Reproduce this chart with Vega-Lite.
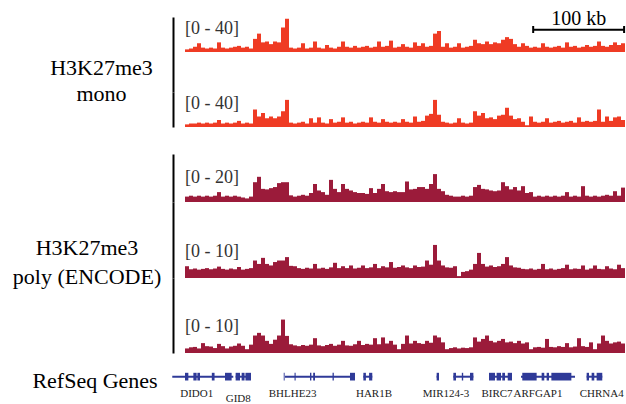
{
  "$schema": "https://vega.github.io/schema/vega-lite/v6.json",
  "background": "white",
  "padding": {"left": 0, "top": 9, "right": 0, "bottom": 0},
  "config": {"view": {"stroke": null}, "font": "Liberation Serif"},
  "datasets": {
    "sig": [
      {"kb":2.2,"m1":3,"m2":3,"p1":3,"p2":3.1,"p3":1.2},
      {"kb":6.6,"m1":4,"m2":4,"p1":3.5,"p2":2.3,"p3":1.5},
      {"kb":11,"m1":6,"m2":4,"p1":3,"p2":2.5,"p3":1.6},
      {"kb":15.4,"m1":10,"m2":5,"p1":3.5,"p2":2.2,"p3":1.2},
      {"kb":19.8,"m1":5,"m2":4,"p1":3,"p2":2.4,"p3":2.6},
      {"kb":24.2,"m1":4,"m2":5,"p1":3.5,"p2":2.6,"p3":1.8},
      {"kb":28.6,"m1":5,"m2":4,"p1":3,"p2":2.3,"p3":1.7},
      {"kb":33,"m1":4,"m2":5,"p1":3.5,"p2":2.5,"p3":1.3},
      {"kb":37.4,"m1":11,"m2":8,"p1":5.5,"p2":3,"p3":2.4},
      {"kb":41.8,"m1":5,"m2":4,"p1":3,"p2":2.4,"p3":1.8},
      {"kb":46.2,"m1":4,"m2":5,"p1":3.5,"p2":2.2,"p3":1.2},
      {"kb":50.6,"m1":5,"m2":4,"p1":3,"p2":2.5,"p3":1.7},
      {"kb":55,"m1":6,"m2":5,"p1":3.5,"p2":2.3,"p3":1.9},
      {"kb":59.4,"m1":7,"m2":7,"p1":3,"p2":2.9,"p3":2.5},
      {"kb":63.8,"m1":5,"m2":4,"p1":2.5,"p2":2.2,"p3":1.9},
      {"kb":68.2,"m1":6,"m2":5,"p1":2,"p2":2.4,"p3":1},
      {"kb":72.6,"m1":4,"m2":4,"p1":3,"p2":2.6,"p3":2.2},
      {"kb":77,"m1":15,"m2":20,"p1":11,"p2":4.6,"p3":4.6},
      {"kb":81.4,"m1":21,"m2":12,"p1":14,"p2":3.7,"p3":5.3},
      {"kb":85.8,"m1":11,"m2":16,"p1":7.3,"p2":5.3,"p3":4.6},
      {"kb":90.2,"m1":12,"m2":10,"p1":7,"p2":3.7,"p3":3.2},
      {"kb":94.6,"m1":9,"m2":12,"p1":7.7,"p2":3.3,"p3":2.4},
      {"kb":99,"m1":12,"m2":10,"p1":8.3,"p2":4.2,"p3":3.5},
      {"kb":103.4,"m1":11,"m2":12,"p1":10.5,"p2":4.6,"p3":4.6},
      {"kb":107.8,"m1":28,"m2":18,"p1":11,"p2":4.6,"p3":8.8},
      {"kb":112.2,"m1":38,"m2":31,"p1":11,"p2":5.5,"p3":4.5},
      {"kb":116.6,"m1":5,"m2":5,"p1":3.7,"p2":3.2,"p3":2.3},
      {"kb":121,"m1":4,"m2":4,"p1":3,"p2":3.1,"p3":2},
      {"kb":125.4,"m1":5,"m2":5,"p1":3.5,"p2":2.6,"p3":1.8},
      {"kb":129.8,"m1":10,"m2":6,"p1":4,"p2":2.4,"p3":2.1},
      {"kb":134.2,"m1":4,"m2":4,"p1":3.5,"p2":2.7,"p3":1.9},
      {"kb":138.6,"m1":5,"m2":10,"p1":5,"p2":2.5,"p3":2.2},
      {"kb":143,"m1":12,"m2":5,"p1":10,"p2":3.7,"p3":3.9},
      {"kb":147.4,"m1":5,"m2":11,"p1":6.4,"p2":2.5,"p3":2},
      {"kb":151.8,"m1":4,"m2":5,"p1":5.5,"p2":2.7,"p3":1.8},
      {"kb":156.2,"m1":8,"m2":4,"p1":4,"p2":2.4,"p3":2.1},
      {"kb":160.6,"m1":5,"m2":9,"p1":12.3,"p2":2.8,"p3":2.4},
      {"kb":165,"m1":4,"m2":5,"p1":7.3,"p2":4,"p3":1.9},
      {"kb":169.4,"m1":6,"m2":6,"p1":5.5,"p2":2.6,"p3":2.2},
      {"kb":173.8,"m1":12,"m2":11,"p1":10,"p2":3.1,"p3":3.2},
      {"kb":178.2,"m1":6,"m2":5,"p1":7.3,"p2":2.6,"p3":2},
      {"kb":182.6,"m1":5,"m2":6,"p1":6.4,"p2":3.3,"p3":1.9},
      {"kb":187,"m1":7,"m2":4,"p1":5.5,"p2":2.5,"p3":2.3},
      {"kb":191.4,"m1":5,"m2":5,"p1":5,"p2":2.7,"p3":3.2},
      {"kb":195.8,"m1":6,"m2":6,"p1":5,"p2":3.3,"p3":2.1},
      {"kb":200.2,"m1":7,"m2":5,"p1":4.5,"p2":2.6,"p3":2.4},
      {"kb":204.6,"m1":5,"m2":11,"p1":7.7,"p2":2.8,"p3":2.2},
      {"kb":209,"m1":6,"m2":6,"p1":5,"p2":3.7,"p3":3.9},
      {"kb":213.4,"m1":12,"m2":5,"p1":7.3,"p2":2.6,"p3":2.3},
      {"kb":217.8,"m1":6,"m2":9,"p1":10,"p2":3.1,"p3":4.1},
      {"kb":222.2,"m1":7,"m2":6,"p1":6,"p2":2.8,"p3":2.5},
      {"kb":226.6,"m1":13,"m2":5,"p1":5.5,"p2":4.2,"p3":3.2},
      {"kb":231,"m1":5,"m2":6,"p1":6,"p2":2.7,"p3":2.2},
      {"kb":235.4,"m1":6,"m2":5,"p1":5.5,"p2":2.9,"p3":1},
      {"kb":239.8,"m1":9,"m2":9,"p1":5.5,"p2":3.3,"p3":2.4},
      {"kb":244.2,"m1":6,"m2":6,"p1":11.4,"p2":2.8,"p3":4.6},
      {"kb":248.6,"m1":5,"m2":5,"p1":7,"p2":2.6,"p3":2.5},
      {"kb":253,"m1":11,"m2":12,"p1":7.3,"p2":3.3,"p3":3.2},
      {"kb":257.4,"m1":7,"m2":6,"p1":8.3,"p2":2.9,"p3":2.6},
      {"kb":261.8,"m1":10,"m2":7,"p1":8.3,"p2":3,"p3":2.4},
      {"kb":266.2,"m1":6,"m2":13,"p1":7.3,"p2":4.6,"p3":3.2},
      {"kb":270.6,"m1":7,"m2":15,"p1":10,"p2":3.5,"p3":2.7},
      {"kb":275,"m1":21,"m2":31,"p1":15.5,"p2":8.7,"p3":4.6},
      {"kb":279.4,"m1":24,"m2":14,"p1":7.3,"p2":4.6,"p3":4.1},
      {"kb":283.8,"m1":6,"m2":6,"p1":6,"p2":3.3,"p3":2.8},
      {"kb":288.2,"m1":10,"m2":5,"p1":4,"p2":2.8,"p3":1},
      {"kb":292.6,"m1":5,"m2":4,"p1":3.5,"p2":2.7,"p3":1.3},
      {"kb":297,"m1":6,"m2":5,"p1":3,"p2":3.1,"p3":1.5},
      {"kb":301.4,"m1":10,"m2":10,"p1":3,"p2":0.5,"p3":1.2},
      {"kb":305.8,"m1":5,"m2":5,"p1":3.5,"p2":1.6,"p3":1.4},
      {"kb":310.2,"m1":6,"m2":4,"p1":3,"p2":1.8,"p3":1.3},
      {"kb":314.6,"m1":7,"m2":5,"p1":3.5,"p2":2.2,"p3":1.5},
      {"kb":319,"m1":14,"m2":18,"p1":8.3,"p2":3.7,"p3":4.1},
      {"kb":323.4,"m1":10,"m2":13,"p1":9.5,"p2":6.6,"p3":3},
      {"kb":327.8,"m1":9,"m2":16,"p1":7.3,"p2":3.7,"p3":3.7},
      {"kb":332.2,"m1":12,"m2":10,"p1":7,"p2":3,"p3":4.6},
      {"kb":336.6,"m1":9,"m2":11,"p1":6.4,"p2":3.3,"p3":3.2},
      {"kb":341,"m1":11,"m2":9,"p1":6,"p2":2.9,"p3":2.8},
      {"kb":345.4,"m1":10,"m2":13,"p1":6.4,"p2":3.1,"p3":3.2},
      {"kb":349.8,"m1":14,"m2":14,"p1":11,"p2":3.7,"p3":3.7},
      {"kb":354.2,"m1":17,"m2":22,"p1":8.8,"p2":5.5,"p3":2.8},
      {"kb":358.6,"m1":15,"m2":13,"p1":7,"p2":3.3,"p3":3},
      {"kb":363,"m1":9,"m2":9,"p1":8.3,"p2":2.8,"p3":2.6},
      {"kb":367.4,"m1":6,"m2":10,"p1":6.4,"p2":2.7,"p3":3.2},
      {"kb":371.8,"m1":10,"m2":6,"p1":8.8,"p2":2.4,"p3":2.5},
      {"kb":376.2,"m1":7,"m2":2,"p1":5,"p2":2.3,"p3":2.8},
      {"kb":380.6,"m1":5,"m2":12,"p1":5.5,"p2":2.5,"p3":1},
      {"kb":385,"m1":6,"m2":6,"p1":3,"p2":2.2,"p3":1.5},
      {"kb":389.4,"m1":5,"m2":5,"p1":3.5,"p2":2.4,"p3":1.6},
      {"kb":393.8,"m1":10,"m2":6,"p1":3,"p2":3.7,"p3":1.4},
      {"kb":398.2,"m1":6,"m2":10,"p1":3.5,"p2":2.3,"p3":3.7},
      {"kb":402.6,"m1":5,"m2":5,"p1":3,"p2":2.5,"p3":1.6},
      {"kb":407,"m1":6,"m2":6,"p1":3.5,"p2":2.2,"p3":1.5},
      {"kb":411.4,"m1":7,"m2":7,"p1":3,"p2":2.4,"p3":1.8},
      {"kb":415.8,"m1":5,"m2":5,"p1":3.5,"p2":2.6,"p3":1.6},
      {"kb":420.2,"m1":11,"m2":6,"p1":5.5,"p2":3.5,"p3":2.6},
      {"kb":424.6,"m1":6,"m2":7,"p1":3,"p2":2.3,"p3":1.5},
      {"kb":429,"m1":7,"m2":5,"p1":3.5,"p2":2.5,"p3":1.7},
      {"kb":433.4,"m1":5,"m2":11,"p1":3,"p2":2.4,"p3":3.9},
      {"kb":437.8,"m1":6,"m2":6,"p1":8.8,"p2":3.3,"p3":1.8},
      {"kb":442.2,"m1":8,"m2":7,"p1":3.5,"p2":2.2,"p3":1.6},
      {"kb":446.6,"m1":6,"m2":6,"p1":3,"p2":2.5,"p3":2.8},
      {"kb":451,"m1":7,"m2":7,"p1":3.5,"p2":3.3,"p3":1},
      {"kb":455.4,"m1":12,"m2":20,"p1":3,"p2":2.4,"p3":2.5},
      {"kb":459.8,"m1":7,"m2":6,"p1":3.5,"p2":2.3,"p3":4.6},
      {"kb":464.2,"m1":6,"m2":12,"p1":4,"p2":3.1,"p3":3.2},
      {"kb":468.6,"m1":8,"m2":7,"p1":3.5,"p2":2.5,"p3":2.5},
      {"kb":473,"m1":11,"m2":11,"p1":6,"p2":2.3,"p3":2.8},
      {"kb":477.4,"m1":8,"m2":12,"p1":3.5,"p2":3.5,"p3":3},
      {"kb":481.8,"m1":10,"m2":8,"p1":8,"p2":2.6,"p3":2.5}
    ],
    "genes": [
      {"name":"DIDO1","start":-14,"end":53.1},
      {"name":"GID8","start":55.7,"end":72.6},
      {"name":"BHLHE23","start":110,"end":187},
      {"name":"HAR1B","start":196.2,"end":206},
      {"name":"MIR124-3","start":276.8,"end":279.4},
      {"name":"unlabelled","start":295.2,"end":317.2},
      {"name":"BIRC7","start":334.4,"end":359.7},
      {"name":"ARFGAP1","start":369.6,"end":429},
      {"name":"CHRNA4","start":441.8,"end":459}
    ],
    "exons": [
      {"gene":"DIDO1","start":0,"end":3.7},
      {"gene":"DIDO1","start":9.2,"end":12.8},
      {"gene":"DIDO1","start":13.6,"end":16.5},
      {"gene":"DIDO1","start":29.5,"end":32.5},
      {"gene":"DIDO1","start":44,"end":51.3},
      {"gene":"GID8","start":55.7,"end":60.5},
      {"gene":"GID8","start":62.3,"end":65.5},
      {"gene":"GID8","start":66.5,"end":72.6},
      {"gene":"BHLHE23","start":108.6,"end":109.6},
      {"gene":"BHLHE23","start":120.5,"end":121.7},
      {"gene":"BHLHE23","start":137.5,"end":139},
      {"gene":"BHLHE23","start":141,"end":143},
      {"gene":"BHLHE23","start":162.3,"end":163.7},
      {"gene":"BHLHE23","start":181.5,"end":187},
      {"gene":"HAR1B","start":196.2,"end":199},
      {"gene":"HAR1B","start":202.5,"end":206},
      {"gene":"MIR124-3","start":276.8,"end":279.4},
      {"gene":"unlabelled","start":295.2,"end":298.1},
      {"gene":"unlabelled","start":304.5,"end":306},
      {"gene":"unlabelled","start":313.5,"end":317.2},
      {"gene":"BIRC7","start":334.4,"end":341},
      {"gene":"BIRC7","start":342.8,"end":347.6},
      {"gene":"BIRC7","start":349,"end":352},
      {"gene":"BIRC7","start":355,"end":359.7},
      {"gene":"ARFGAP1","start":371,"end":386.8},
      {"gene":"ARFGAP1","start":392.3,"end":395.2},
      {"gene":"ARFGAP1","start":397.8,"end":400.4},
      {"gene":"ARFGAP1","start":403,"end":425},
      {"gene":"CHRNA4","start":441.8,"end":444.4},
      {"gene":"CHRNA4","start":447.3,"end":450.2},
      {"gene":"CHRNA4","start":452.8,"end":459}
    ],
    "labels": [
      {"name":"DIDO1","kb":12.9,"row":1},
      {"name":"GID8","kb":58.6,"row":2},
      {"name":"BHLHE23","kb":118.3,"row":1},
      {"name":"HAR1B","kb":207.9,"row":1},
      {"name":"MIR124-3","kb":287.1,"row":1},
      {"name":"BIRC7","kb":343.2,"row":1},
      {"name":"ARFGAP1","kb":388.3,"row":1},
      {"name":"CHRNA4","kb":458.4,"row":1}
    ],
    "scalebar": [{"from":383,"to":483,"mid":433,"label":"100 kb"}]
  },
  "columns": 2,
  "spacing": {"row": 0, "column": 12},
  "bounds": "flush",
  "concat": [
    {
      "width": 173, "height": 75,
      "data": {"values": [{"g": "mono", "label": "H3K27me3\nmono"}]},
      "mark": {"type": "text", "fontSize": 22, "lineBreak": "\n", "lineHeight": 26, "dx": 15, "dy": 13.5, "color": "#000000"},
      "encoding": {
        "text": {"field": "label"},
        "y": {"field": "g", "type": "nominal", "axis": {"orient": "right", "labels": false, "ticks": false, "title": null, "domainColor": "#000000", "domainWidth": 2}}
      }
    },
    {
      "width": 440, "height": 35,
      "layer": [
        {
          "data": {"name": "sig"},
          "mark": {"type": "bar", "width": 4, "color": "#EF3B24"},
          "encoding": {
            "x": {"field": "kb", "type": "quantitative", "scale": {"domain": [0, 484], "nice": false, "zero": false, "padding": 0}, "axis": null},
            "y": {"field": "m1", "type": "quantitative", "scale": {"domain": [0, 40], "nice": false}, "axis": null}
          }
        },
        {
          "data": {"values": [{"range": "[0 - 40]"}]},
          "mark": {"type": "text", "align": "left", "baseline": "alphabetic", "dy": 16.7, "fontSize": 18, "color": "#333333"},
          "encoding": {"x": {"datum": 0}, "y": {"datum": 40}, "text": {"field": "range"}}
        },
        {
          "data": {"name": "scalebar"},
          "mark": {"type": "rule", "strokeWidth": 2, "color": "#000000"},
          "encoding": {"x": {"field": "from", "type": "quantitative"}, "x2": {"field": "to"}, "y": {"datum": 25.5}}
        },
        {
          "data": {"name": "scalebar"},
          "mark": {"type": "rule", "strokeWidth": 2, "color": "#000000"},
          "encoding": {"x": {"field": "from", "type": "quantitative"}, "y": {"datum": 29.7}, "y2": {"datum": 21.7}}
        },
        {
          "data": {"name": "scalebar"},
          "mark": {"type": "rule", "strokeWidth": 2, "color": "#000000"},
          "encoding": {"x": {"field": "to", "type": "quantitative"}, "y": {"datum": 29.7}, "y2": {"datum": 21.7}}
        },
        {
          "data": {"name": "scalebar"},
          "mark": {"type": "text", "baseline": "alphabetic", "fontSize": 20, "color": "#000000"},
          "encoding": {"x": {"field": "mid", "type": "quantitative"}, "y": {"datum": 30.5}, "text": {"field": "label"}}
        }
      ]
    },
    {
      "width": 173, "height": 35,
      "data": {"values": [{"g": "mono", "label": ""}]},
      "mark": {"type": "text"},
      "encoding": {
        "text": {"field": "label"},
        "y": {"field": "g", "type": "nominal", "axis": {"orient": "right", "labels": false, "ticks": false, "title": null, "domainColor": "#000000", "domainWidth": 2}}
      }
    },
    {
      "width": 440, "height": 62,
      "layer": [
        {
          "data": {"name": "sig"},
          "mark": {"type": "bar", "width": 4, "color": "#EF3B24"},
          "encoding": {
            "x": {"field": "kb", "type": "quantitative", "scale": {"domain": [0, 484], "nice": false, "zero": false, "padding": 0}, "axis": null},
            "y": {"field": "m2", "type": "quantitative", "scale": {"domain": [0, 40], "nice": false, "range": [35, 0]}, "axis": null}
          }
        },
        {
          "data": {"values": [{"range": "[0 - 40]"}]},
          "mark": {"type": "text", "align": "left", "baseline": "alphabetic", "dy": 16.7, "fontSize": 18, "color": "#333333"},
          "encoding": {"x": {"datum": 0}, "y": {"datum": 40}, "text": {"field": "range"}}
        }
      ]
    },
    {
      "width": 173, "height": 48,
      "data": {"values": [{"g": "poly", "label": ""}]},
      "mark": {"type": "text"},
      "encoding": {
        "text": {"field": "label"},
        "y": {"field": "g", "type": "nominal", "axis": {"orient": "right", "labels": false, "ticks": false, "title": null, "domainColor": "#000000", "domainWidth": 2}}
      }
    },
    {
      "width": 440, "height": 48,
      "layer": [
        {
          "data": {"name": "sig"},
          "mark": {"type": "bar", "width": 4, "color": "#9B1B3A"},
          "encoding": {
            "x": {"field": "kb", "type": "quantitative", "scale": {"domain": [0, 484], "nice": false, "zero": false, "padding": 0}, "axis": null},
            "y": {"field": "p1", "type": "quantitative", "scale": {"domain": [0, 20], "nice": false, "range": [48, 12]}, "axis": null}
          }
        },
        {
          "data": {"values": [{"range": "[0 - 20]"}]},
          "mark": {"type": "text", "align": "left", "baseline": "alphabetic", "dy": 16.7, "fontSize": 18, "color": "#333333"},
          "encoding": {"x": {"datum": 0}, "y": {"datum": 20}, "text": {"field": "range"}}
        }
      ]
    },
    {
      "width": 173, "height": 76,
      "data": {"values": [{"g": "poly", "label": "H3K27me3\npoly (ENCODE)"}]},
      "mark": {"type": "text", "fontSize": 22, "lineBreak": "\n", "lineHeight": 29, "dx": 0.5, "dy": 8, "color": "#000000"},
      "encoding": {
        "text": {"field": "label"},
        "y": {"field": "g", "type": "nominal", "axis": {"orient": "right", "labels": false, "ticks": false, "title": null, "domainColor": "#000000", "domainWidth": 2}}
      }
    },
    {
      "width": 440, "height": 76,
      "layer": [
        {
          "data": {"name": "sig"},
          "mark": {"type": "bar", "width": 4, "color": "#9B1B3A"},
          "encoding": {
            "x": {"field": "kb", "type": "quantitative", "scale": {"domain": [0, 484], "nice": false, "zero": false, "padding": 0}, "axis": null},
            "y": {"field": "p2", "type": "quantitative", "scale": {"domain": [0, 10], "nice": false, "range": [76, 38]}, "axis": null}
          }
        },
        {
          "data": {"values": [{"range": "[0 - 10]"}]},
          "mark": {"type": "text", "align": "left", "baseline": "alphabetic", "dy": 16.7, "fontSize": 18, "color": "#333333"},
          "encoding": {"x": {"datum": 0}, "y": {"datum": 10}, "text": {"field": "range"}}
        }
      ]
    },
    {
      "width": 173, "height": 75,
      "data": {"values": [{"g": "poly", "label": ""}]},
      "mark": {"type": "text"},
      "encoding": {
        "text": {"field": "label"},
        "y": {"field": "g", "type": "nominal", "axis": {"orient": "right", "labels": false, "ticks": false, "title": null, "domainColor": "#000000", "domainWidth": 2}}
      }
    },
    {
      "width": 440, "height": 75,
      "layer": [
        {
          "data": {"name": "sig"},
          "mark": {"type": "bar", "width": 4, "color": "#9B1B3A"},
          "encoding": {
            "x": {"field": "kb", "type": "quantitative", "scale": {"domain": [0, 484], "nice": false, "zero": false, "padding": 0}, "axis": null},
            "y": {"field": "p3", "type": "quantitative", "scale": {"domain": [0, 10], "nice": false, "range": [75, 37]}, "axis": null}
          }
        },
        {
          "data": {"values": [{"range": "[0 - 10]"}]},
          "mark": {"type": "text", "align": "left", "baseline": "alphabetic", "dy": 16.7, "fontSize": 18, "color": "#333333"},
          "encoding": {"x": {"datum": 0}, "y": {"datum": 10}, "text": {"field": "range"}}
        }
      ]
    },
    {
      "width": 173, "height": 50,
      "data": {"values": [{"label": "RefSeq Genes"}]},
      "mark": {"type": "text", "fontSize": 22, "dx": 8.5, "dy": 2.5, "color": "#000000"},
      "encoding": {"text": {"field": "label"}}
    },
    {
      "width": 440, "height": 50,
      "layer": [
        {
          "data": {"name": "genes"},
          "mark": {"type": "rule", "strokeWidth": 2, "color": "#2F3A98"},
          "encoding": {
            "x": {"field": "start", "type": "quantitative", "scale": {"domain": [0, 484], "nice": false, "zero": false, "padding": 0}, "axis": null},
            "x2": {"field": "end"},
            "y": {"datum": 0.526, "scale": {"domain": [0, 1]}, "axis": null}
          }
        },
        {
          "data": {"name": "exons"},
          "mark": {"type": "rect", "color": "#2F3A98"},
          "encoding": {
            "x": {"field": "start", "type": "quantitative"},
            "x2": {"field": "end"},
            "y": {"datum": 0.604},
            "y2": {"datum": 0.45}
          }
        },
        {
          "data": {"name": "labels"},
          "transform": [{"filter": "datum.row == 1"}],
          "mark": {"type": "text", "fontSize": 11, "color": "#222222"},
          "encoding": {"x": {"field": "kb", "type": "quantitative"}, "y": {"datum": 0.174}, "text": {"field": "name"}}
        },
        {
          "data": {"name": "labels"},
          "transform": [{"filter": "datum.row == 2"}],
          "mark": {"type": "text", "fontSize": 11, "color": "#222222"},
          "encoding": {"x": {"field": "kb", "type": "quantitative"}, "y": {"datum": 0.072}, "text": {"field": "name"}}
        }
      ]
    }
  ]
}
